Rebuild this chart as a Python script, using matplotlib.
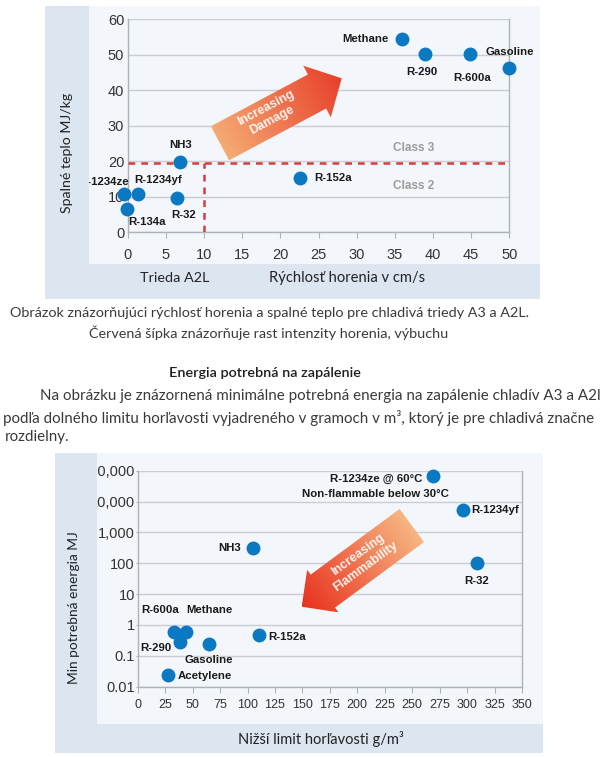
import numpy as np
import matplotlib
matplotlib.use("Agg")
import matplotlib.pyplot as plt
from matplotlib.patches import Rectangle, Polygon
from matplotlib.colors import LinearSegmentedColormap
from matplotlib.transforms import Bbox

plt.rcParams["font.family"] = ["Liberation Sans", "DejaVu Sans"]

# --- chart 1: burning velocity vs heat of combustion ---
names_top = ["Methane", "R-290", "R-600a", "Gasoline", "R-152a", "NH3", "R-32", "R-1234yf", "R-1234ze", "R-134a"]
burn_speed = [36.0, 39.0, 44.9, 50.0, 22.6, 6.9, 6.4, 1.4, -0.5, -0.1]
heat_comb = [54.4, 50.1, 50.1, 46.3, 15.4, 19.7, 9.7, 10.8, 10.8, 6.6]
class_heat = 19.5
class_speed = 10
x_ticks_top = [0, 5, 10, 15, 20, 25, 30, 35, 40, 45, 50]
y_ticks_top = [0, 10, 20, 30, 40, 50, 60]

# --- chart 2: minimum ignition energy vs lower flammability limit ---
names_bot = ["R-1234ze @ 60°C", "R-1234yf", "R-32", "NH3", "R-152a", "R-600a", "Methane", "R-290", "Gasoline", "Acetylene"]
lfl = [269, 296, 309, 105, 110.5, 33, 44, 38.5, 65, 28]
min_energy = [69000, 5200, 100, 320, 0.47, 0.58, 0.58, 0.29, 0.24, 0.024]
x_ticks_bot = [0, 25, 50, 75, 100, 125, 150, 175, 200, 225, 250, 275, 300, 325, 350]
y_ticks_bot = [0.01, 0.1, 1, 10, 100, 1000, 10000, 100000]
y_labels_bot = ["0.01", "0.1", "1", "10", "100", "1,000", "10,000", "100,000"]

# label placement (offset in pixels, ha)
offs_top = [(-14, 0, "right"), (-3, -18, "center"), (2, -24, "center"), (0, 16, "center"),
            (14, 0, "left"), (0, 17, "center"), (7, -17, "center"), (20, 14, "center"),
            (5, 12, "right"), (20, -13, "center")]
offs_bot = [(-11, -3, "right"), (9, 0, "left"), (0, -18, "center"), (-12, 0, "right"),
            (9, -2, "left"), (-14, 22, "center"), (23, 22, "center"), (-8, -6, "right"),
            (0, -16, "center"), (9, -1, "left")]

W, H = 600, 757
band = "#dce6f1"
inner = "#f3f6fa"
blue = "#0b78c2"
grid_c = "#c9cdd3"
txt_c = "#3a3a3a"

fig = plt.figure(figsize=(W / 100, H / 100), dpi=100)
renderer = fig.canvas.get_renderer()

# background layer in pixel coordinates
bg = fig.add_axes([0, 0, 1, 1], zorder=0)
bg.set_xlim(0, W)
bg.set_ylim(H, 0)
bg.axis("off")
bg.add_patch(Rectangle((45, 6), 495, 293, color=band, lw=0))
bg.add_patch(Rectangle((89.3, 6), 450.7, 258.3, color=inner, lw=0))
bg.add_patch(Rectangle((55, 453), 487.7, 300.3, color=band, lw=0))
bg.add_patch(Rectangle((96.7, 453), 446, 271, color=inner, lw=0))


def fit(t, width):
    e = t.get_window_extent(renderer)
    t.set_fontsize(t.get_fontsize() * width / max(e.width, e.height))


def label(x, y, s, width=None, color=txt_c, size=10, **kw):
    t = bg.text(x, y, s, fontfamily=["Lato", "DejaVu Sans"], color=color, fontsize=size, **kw)
    if width:
        fit(t, width)
    return t


# axis titles
label(66.7, 153, "Spalné teplo MJ/kg", 120, rotation=90, ha="center", va="center", color="#222")
label(174.7, 277.7, "Trieda A2L", 69, ha="center", va="center", color="#222")
label(347.3, 277.7, "Rýchlosť horenia v cm/s", 155, ha="center", va="center", color="#222")
label(74, 607.5, "Min potrebná energia MJ", 152, rotation=90, ha="center", va="center", color="#222")
label(321, 739.3, "Nižší limit horľavosti g/m³", 164, ha="center", va="center", color="#222")

# text between the charts
c1 = label(269, 312.7, "Obrázok znázorňujúci rýchlosť horenia a spalné teplo pre chladivá triedy A3 a A2L.", 478,
           ha="center", va="center")
c2 = label(269, 332.7, "Červená šípka znázorňuje rast intenzity horenia, výbuchu", 388, ha="center", va="center")
cs = (c1.get_fontsize() + c2.get_fontsize()) / 2
c1.set_fontsize(cs)
c2.set_fontsize(cs)
label(265, 372.7, "Energia potrebná na zapálenie", size=cs, ha="center", va="center",
      fontweight="semibold", color="#1e1e1e")
p1 = label(40, 396, "Na obrázku je znázornená minimálne potrebná energia na zapálenie chladív A3 a A2l", 558,
           ha="left", va="center")
label(3, 417.7, "podľa dolného limitu horľavosti vyjadreného v gramoch v m³, ktorý je pre chladivá značne", 589,
      ha="left", va="center")
label(5, 436.7, "rozdielny.", size=p1.get_fontsize(), ha="left", va="center")

clip_top = Bbox.from_extents(89.3, 0, W, H)
clip_bot = Bbox.from_extents(96.7, 0, W, H)


def style(ax):
    ax.patch.set_visible(False)
    ax.spines["top"].set_visible(False)
    for s in ["left", "right", "bottom"]:
        ax.spines[s].set_color("#aeb3b9")
        ax.spines[s].set_linewidth(1)
    ax.grid(axis="y", color=grid_c, lw=1)
    ax.set_axisbelow(True)


# --- top chart ---
ax1 = fig.add_axes([127.7 / W, 1 - 232.3 / H, 381.6 / W, 213.3 / H], zorder=2)
style(ax1)
ax1.set_xlim(0, 50)
ax1.set_ylim(0, 60)
ax1.set_xticks(x_ticks_top)
ax1.set_yticks(y_ticks_top)
ax1.tick_params(axis="x", length=4, color="#aeb3b9", pad=7, labelsize=10.5, labelcolor="#333")
ax1.tick_params(axis="y", length=0, pad=2.5, labelsize=10.5, labelcolor="#333")
ax1.axhline(class_heat, color="#d93a3a", lw=1.8, dashes=(2.7, 2.4), zorder=3)
ax1.plot([class_speed, class_speed], [0, class_heat], color="#d93a3a", lw=1.8, dashes=(2.7, 2.4), zorder=3)
ax1.text(37.4, 23.8, "Class 3", color="#9c9c9c", fontweight="bold", fontsize=8.5, ha="center", va="center")
ax1.text(37.4, 13.1, "Class 2", color="#9c9c9c", fontweight="bold", fontsize=8.5, ha="center", va="center")
ax1.scatter(burn_speed, heat_comb, s=100, color=blue, lw=0, zorder=4, clip_on=False)
for name, x, y, (dx, dy, ha) in zip(names_top, burn_speed, heat_comb, offs_top):
    a = ax1.annotate(name, (x, y), xytext=(dx, dy), textcoords="offset pixels", ha=ha, va="center",
                     fontsize=8.2, fontweight="bold", color="#1a1a1a", annotation_clip=False, zorder=5)
    a.set_clip_box(clip_top)
    a.set_clip_on(True)

# --- bottom chart ---
ax2 = fig.add_axes([137.7 / W, 1 - 686.7 / H, 384.3 / W, 216 / H], zorder=2)
style(ax2)
ax2.set_yscale("log")
ax2.set_xlim(0, 350)
ax2.set_ylim(0.01, 100000)
ax2.set_xticks(x_ticks_bot)
ax2.set_yticks(y_ticks_bot)
ax2.minorticks_off()
ylabs = ax2.set_yticklabels(y_labels_bot)
for t in ylabs:
    t.set_clip_box(clip_bot)
    t.set_clip_on(True)
ax2.tick_params(axis="x", length=4, color="#aeb3b9", pad=4.5, labelsize=9, labelcolor="#333")
ax2.tick_params(axis="y", length=1.5, color="#aeb3b9", pad=0.6, labelsize=10.5, labelcolor="#333")
ax2.scatter(lfl, min_energy, s=100, color=blue, lw=0, zorder=4, clip_on=False)
for name, x, y, (dx, dy, ha) in zip(names_bot, lfl, min_energy, offs_bot):
    ax2.annotate(name, (x, y), xytext=(dx, dy), textcoords="offset pixels", ha=ha, va="center",
                 fontsize=8.2, fontweight="bold", color="#1a1a1a", annotation_clip=False, zorder=5)
ax2.annotate("Non-flammable below 30°C", (lfl[0], min_energy[0]), xytext=(-58, -18), textcoords="offset pixels",
             ha="center", va="center", fontsize=8.2, fontweight="bold", color="#1a1a1a",
             annotation_clip=False, zorder=5)

# --- gradient arrows (pixel coordinates) ---
ov = fig.add_axes([0, 0, 1, 1], zorder=3)
ov.patch.set_visible(False)
ov.axis("off")


def gradient_arrow(tail, tip, hs, hh, hl, c_tail, c_tip):
    tail = np.array(tail, float)
    tip = np.array(tip, float)
    d = tip - tail
    L = np.hypot(*d)
    u = d / L
    n = np.array([u[1], -u[0]])
    neck = tip - u * hl
    pts = np.array([tail + n * hs, neck + n * hs, neck + n * hh, tip,
                    neck - n * hh, neck - n * hs, tail - n * hs])
    poly = Polygon(pts, closed=True, facecolor="none", edgecolor="none")
    ov.add_patch(poly)
    x0, y0 = pts.min(axis=0)
    x1, y1 = pts.max(axis=0)
    gx, gy = np.meshgrid(np.linspace(x0, x1, 200), np.linspace(y0, y1, 200))
    t = ((gx - tail[0]) * u[0] + (gy - tail[1]) * u[1]) / L
    cmap = LinearSegmentedColormap.from_list("arr", [c_tail, c_tip])
    im = ov.imshow(t, cmap=cmap, vmin=0, vmax=1, extent=(x0, x1, y1, y0), origin="upper",
                   aspect="auto", interpolation="bilinear")
    im.set_clip_path(poly)


gradient_arrow((220, 143.3), (341.7, 78.3), 19.3, 29.3, 28, "#f5aa74", "#e8402a")
gradient_arrow((411.8, 525.5), (301.7, 606.7), 20.5, 26.5, 26.3, "#f7b682", "#e8321e")
ov.set_xlim(0, W)
ov.set_ylim(H, 0)
ov.text(269, 114, "Increasing\nDamage", rotation=28, rotation_mode="anchor", ha="center", va="center",
        multialignment="center", color="white", alpha=0.92, fontsize=9, fontweight="bold", linespacing=1.2)
ov.text(361.7, 560.7, "Increasing\nFlammability", rotation=36, rotation_mode="anchor", ha="center", va="center",
        multialignment="center", color="white", alpha=0.92, fontsize=9, fontweight="bold", linespacing=1.2)

fig.savefig("out.png", dpi=100, facecolor="white")
